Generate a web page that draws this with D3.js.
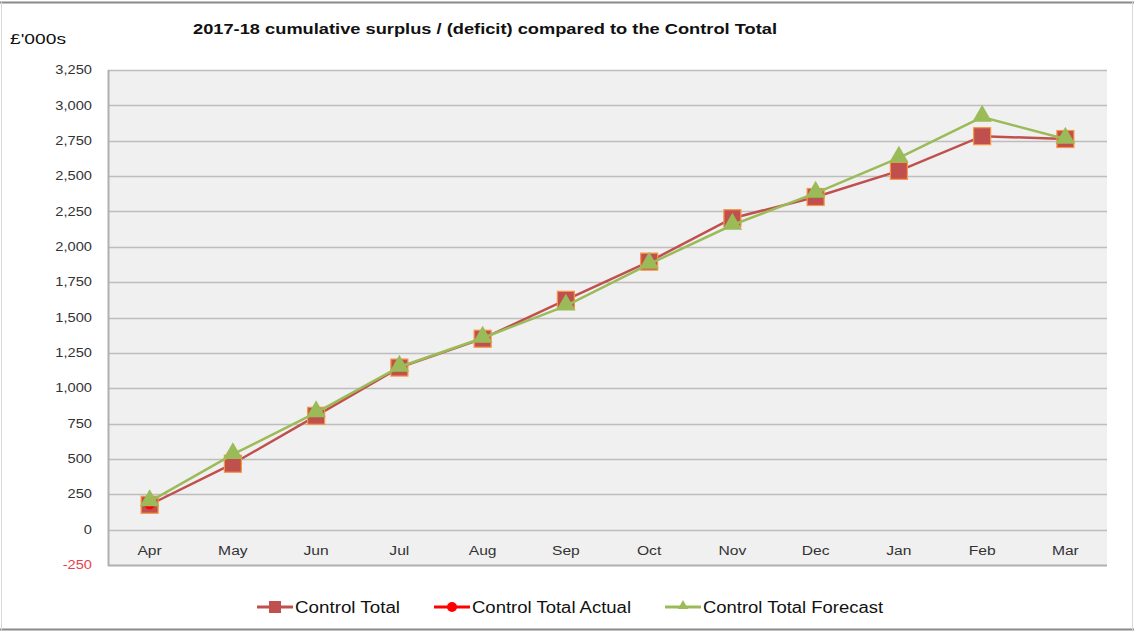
<!DOCTYPE html>
<html>
<head>
<meta charset="utf-8">
<script src="https://cdn.jsdelivr.net/npm/d3@7"></script>
<style>
  body { margin: 0; background: #fff; }
  svg { display: block; font-family: Arial, "Liberation Sans", sans-serif; }
</style>
</head>
<body>
<svg id="chart" width="1134" height="632"></svg>
<script>
const months = ["Apr", "May", "Jun", "Jul", "Aug", "Sep", "Oct", "Nov", "Dec", "Jan", "Feb", "Mar"];
const controlTotal = [176, 466, 805, 1146, 1350, 1625, 1895, 2202, 2352, 2537, 2782, 2762];
const controlActual = [182, null, null, null, null, null, null, null, null, null, null, null];
const controlForecast = [198, 532, 828, 1150, 1355, 1582, 1878, 2154, 2380, 2628, 2917, 2762];
const yTicks = [-250, 0, 250, 500, 750, 1000, 1250, 1500, 1750, 2000, 2250, 2500, 2750, 3000, 3250];

const svg = d3.select("#chart");
const width = +svg.attr("width");
const height = +svg.attr("height");

const plot = { left: 108, right: 1107, top: 70, bottom: 565 };

const x = d3.scalePoint().domain(months).range([plot.left, plot.right]).padding(0.5);
const y = d3.scaleLinear().domain([-250, 3250]).range([plot.bottom, plot.top]);

// plain hyphen for negatives, like the source chart
const fmt = d3.formatLocale({ decimal: ".", thousands: ",", grouping: [3], currency: ["£", ""], minus: "-" }).format(",");

// the source chart's text is a bit wider than Arial, so stretch it
function stretch(sel, factor) {
    sel.each(function () {
        const w = this.getComputedTextLength();
        d3.select(this)
            .attr("textLength", w * factor)
            .attr("lengthAdjust", "spacingAndGlyphs");
    });
}

// outer frame
svg.append("line").attr("x1", 0).attr("x2", width).attr("y1", 2.5).attr("y2", 2.5)
    .style("stroke", "#8a8a8a").style("stroke-width", 2);
svg.append("line").attr("x1", 0).attr("x2", width).attr("y1", 629.5).attr("y2", 629.5)
    .style("stroke", "#8a8a8a").style("stroke-width", 2);
svg.append("line").attr("x1", 1.5).attr("x2", 1.5).attr("y1", 2).attr("y2", 630)
    .style("stroke", "#d8d8d8");
svg.append("line").attr("x1", 1132.5).attr("x2", 1132.5).attr("y1", 2).attr("y2", 630)
    .style("stroke", "#d8d8d8");

// plot background
svg.append("rect")
    .attr("x", plot.left).attr("y", plot.top)
    .attr("width", plot.right - plot.left).attr("height", plot.bottom - plot.top)
    .style("fill", "#f0f0f0");

// gridlines
svg.append("g")
    .selectAll("line")
    .data(yTicks.filter(d => d > -250))
    .enter().append("line")
    .attr("x1", plot.left).attr("x2", plot.right)
    .attr("y1", d => Math.round(y(d)) + 0.5).attr("y2", d => Math.round(y(d)) + 0.5)
    .style("stroke", "#bdbdbd")
    .style("stroke-width", 1.5);

// left and bottom axis borders
svg.append("line").attr("x1", plot.left + 0.5).attr("x2", plot.left + 0.5)
    .attr("y1", plot.top).attr("y2", plot.bottom + 1)
    .style("stroke", "#b0b0b0").style("stroke-width", 2);
svg.append("line").attr("x1", plot.left).attr("x2", plot.right)
    .attr("y1", plot.bottom + 0.5).attr("y2", plot.bottom + 0.5)
    .style("stroke", "#b0b0b0").style("stroke-width", 2);

// y tick labels
svg.append("g")
    .selectAll("text")
    .data(yTicks)
    .enter().append("text")
    .attr("x", 92)
    .attr("y", d => y(d))
    .attr("dy", "0.35em")
    .attr("text-anchor", "end")
    .style("font-size", "12px")
    .style("fill", d => d < 0 ? "#e8424f" : "#333")
    .text(d => fmt(d))
    .call(stretch, 1.22);

// x category labels
svg.append("g")
    .selectAll("text")
    .data(months)
    .enter().append("text")
    .attr("x", d => x(d))
    .attr("y", 551)
    .attr("dy", "0.35em")
    .attr("text-anchor", "middle")
    .style("font-size", "12.5px")
    .style("fill", "#333")
    .text(d => d)
    .call(stretch, 1.25);

// titles
svg.append("text")
    .attr("x", 193).attr("y", 34)
    .attr("textLength", 584)
    .attr("lengthAdjust", "spacingAndGlyphs")
    .style("font-size", "15px")
    .style("font-weight", "bold")
    .style("fill", "#111")
    .text("2017-18 cumulative surplus / (deficit) compared to the Control Total");
svg.append("text")
    .attr("x", 10).attr("y", 44)
    .attr("textLength", 56)
    .attr("lengthAdjust", "spacingAndGlyphs")
    .style("font-size", "15px")
    .style("fill", "#111")
    .text("£'000s");

const line = d3.line()
    .defined(d => d.v !== null)
    .x(d => x(d.m))
    .y(d => y(d.v));

const toPoints = arr => arr.map((v, i) => ({ m: months[i], v: v }));

const colors = {
    total: "#c0504d",
    totalEdge: "#f79646",
    actual: "#ff0000",
    forecast: "#9bbb59",
};

// Control Total
svg.append("path")
    .datum(toPoints(controlTotal))
    .attr("d", line)
    .style("fill", "none")
    .style("stroke", colors.total)
    .style("stroke-width", 2.5);
svg.append("g")
    .selectAll("rect")
    .data(toPoints(controlTotal))
    .enter().append("rect")
    .attr("x", d => x(d.m) - 8.5)
    .attr("y", d => y(d.v) - 8.5)
    .attr("width", 17).attr("height", 17)
    .style("fill", colors.total)
    .style("stroke", colors.totalEdge)
    .style("stroke-width", 1.2);

// Control Total Actual
svg.append("g")
    .selectAll("circle")
    .data(toPoints(controlActual).filter(d => d.v !== null))
    .enter().append("circle")
    .attr("cx", d => x(d.m))
    .attr("cy", d => y(d.v))
    .attr("r", 5.5)
    .style("fill", colors.actual);

// Control Total Forecast
const tri = d3.symbol().type(d3.symbolTriangle).size(165);
svg.append("path")
    .datum(toPoints(controlForecast))
    .attr("d", line)
    .style("fill", "none")
    .style("stroke", colors.forecast)
    .style("stroke-width", 2.5);
svg.append("g")
    .selectAll("path")
    .data(toPoints(controlForecast))
    .enter().append("path")
    .attr("d", tri)
    .attr("transform", d => `translate(${x(d.m)},${y(d.v) - 1})`)
    .style("fill", colors.forecast);

// legend
const legendItems = [
    { name: "Control Total", color: colors.total, marker: "square", x: 257, len: 105 },
    { name: "Control Total Actual", color: colors.actual, marker: "circle", x: 434, len: 159 },
    { name: "Control Total Forecast", color: colors.forecast, marker: "triangle", x: 665, len: 180 },
];
const legend = svg.append("g");
legendItems.forEach(item => {
    const g = legend.append("g").attr("transform", `translate(${item.x}, 607)`);
    g.append("line")
        .attr("x1", 0).attr("x2", 36)
        .style("stroke", item.color)
        .style("stroke-width", 3);
    if (item.marker === "square") {
        g.append("rect").attr("x", 12).attr("y", -6).attr("width", 12).attr("height", 12)
            .style("fill", item.color);
    } else if (item.marker === "circle") {
        g.append("circle").attr("cx", 18).attr("r", 5).style("fill", item.color);
    } else {
        g.append("path").attr("d", d3.symbol().type(d3.symbolTriangle).size(45))
            .attr("transform", "translate(18,-1)").style("fill", item.color);
    }
    g.append("text")
        .attr("x", 38).attr("dy", "0.35em")
        .attr("textLength", item.len)
        .attr("lengthAdjust", "spacingAndGlyphs")
        .style("font-size", "16px")
        .style("fill", "#111")
        .text(item.name);
});
</script>
</body>
</html>
